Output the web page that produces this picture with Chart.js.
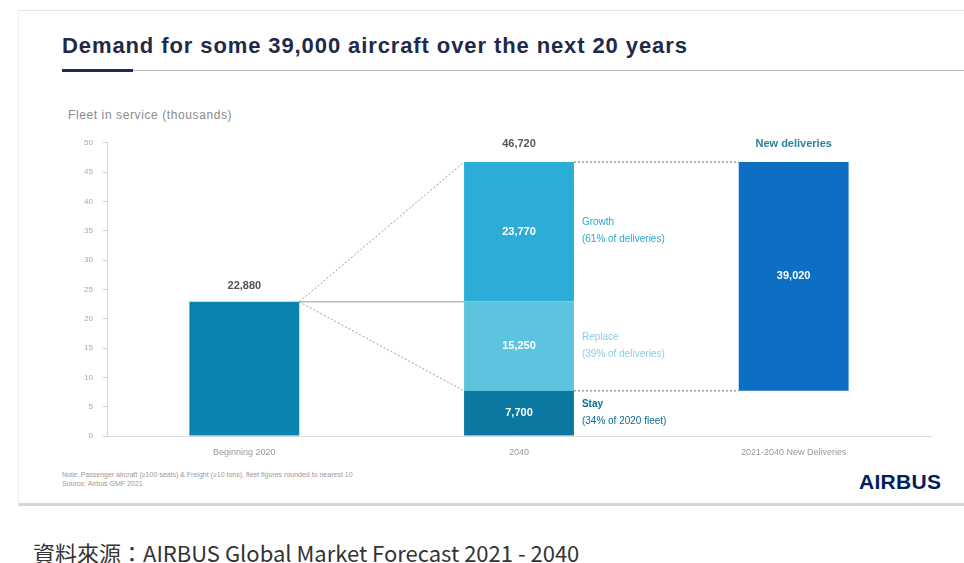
<!doctype html>
<html lang="en">
<head>
<meta charset="utf-8">
<title>Airbus GMF 2021</title>
<script src="https://cdn.jsdelivr.net/npm/chart.js@4"></script>
<style>
  body { margin:0; background:#fff; font-family:"Liberation Sans", Arial, sans-serif; }
  #slide { position:absolute; left:18px; top:10px; width:946px; height:492px; border-top:1px solid #e4e4e4; border-left:1px solid #eee; border-bottom:3px solid #d6d6d6; }
  #title { position:absolute; left:62px; top:33px; font-size:22px; letter-spacing:0.9px; font-weight:bold; color:#1f2a48; white-space:nowrap; }
  #rule { position:absolute; left:62px; top:70px; width:902px; height:1px; background:#bdbdbd; }
  #rule2 { position:absolute; left:62px; top:69px; width:71px; height:3px; background:#1f2a5a; }
  #ylab { position:absolute; left:68px; top:108px; font-size:12px; letter-spacing:0.6px; color:#8a8a8a; }
  #wrap { position:absolute; left:60px; top:128px; width:880px; height:332px; }
  #note { position:absolute; left:62px; top:470px; font-size:7px; line-height:9px; color:#999; }
  #logo { position:absolute; left:859px; top:470px; font-size:21px; font-weight:bold; color:#00205b; letter-spacing:0.3px; }
  #src { position:absolute; left:33px; top:536px; font-size:22px; color:#333; font-family:"Noto Sans CJK TC", "Liberation Sans", sans-serif; white-space:nowrap; }
</style>
</head>
<body>
<div id="slide"></div>
<div id="title">Demand for some 39,000 aircraft over the next 20 years</div>
<div id="rule"></div><div id="rule2"></div>
<div id="ylab">Fleet in service (thousands)</div>
<div id="wrap"><canvas id="myChart"></canvas></div>
<div id="note">Note: Passenger aircraft (&ge;100 seats) &amp; Freight (&ge;10 tons), fleet figures rounded to nearest 10<br>Source: Airbus GMF 2021</div>
<div id="logo">AIRBUS</div>
<div id="src">資料來源：AIRBUS Global Market Forecast 2021 - 2040</div>
<script>
// values in thousands of aircraft
var categories = ["Beginning 2020", "2040", "2021-2040 New Deliveries"]
var fleet2020 = 22.88
var stay = 7.70
var replace = 15.25
var growth = 23.77
var yTicks = [0, 5, 10, 15, 20, 25, 30, 35, 40, 45, 50]

var fleet2040 = stay + replace + growth
var deliveries = replace + growth

function fmt(v) { return Math.round(v * 1000).toLocaleString('en-US') }

var colors = { begin:'#0a83b0', stay:'#0b78a2', replace:'#5cc4df', growth:'#2badd8', newdel:'#0c6fc3' }

var sideLabels = [
  { ds:1, t1:"Stay", t2:"(34% of 2020 fleet)", color:'#0b6e96', bold:true },
  { ds:2, t1:"Replace", t2:"(39% of deliveries)", color:'#86d0e6', bold:false },
  { ds:3, t1:"Growth", t2:"(61% of deliveries)", color:'#2aa6cf', bold:false }
]

var labelPlugin = {
  id:'labels',
  beforeDatasetsDraw: function(chart) {
    var ctx = chart.ctx
    var y = chart.scales.y
    var b0 = chart.getDatasetMeta(0).data[0]
    var s = chart.getDatasetMeta(1).data[1]
    var n = chart.getDatasetMeta(4).data[2]
    var x0 = b0.x + b0.width / 2
    var y0 = y.getPixelForValue(fleet2020)
    var x1 = s.x - s.width / 2
    var x2 = s.x + s.width / 2
    var x3 = n.x - n.width / 2
    var yTop = y.getPixelForValue(fleet2040)
    var yStay = y.getPixelForValue(stay)
    ctx.save()
    ctx.strokeStyle = '#9a9a9a'
    ctx.lineWidth = 1
    ctx.beginPath(); ctx.moveTo(x0, y0); ctx.lineTo(x1, y0); ctx.stroke()
    ctx.setLineDash([2, 2])
    ctx.beginPath(); ctx.moveTo(x0, y0); ctx.lineTo(x1, yTop); ctx.stroke()
    ctx.beginPath(); ctx.moveTo(x0, y0); ctx.lineTo(x1, yStay); ctx.stroke()
    ctx.strokeStyle = '#666'
    ctx.beginPath(); ctx.moveTo(x2, yTop); ctx.lineTo(x3, yTop); ctx.stroke()
    ctx.beginPath(); ctx.moveTo(x2, yStay); ctx.lineTo(x3, yStay); ctx.stroke()
    ctx.restore()
  },
  afterDatasetsDraw: function(chart) {
    var ctx = chart.ctx
    var y = chart.scales.y
    ctx.save()
    ctx.textAlign = 'center'
    ctx.textBaseline = 'middle'
    // labels above bars
    var b0 = chart.getDatasetMeta(0).data[0]
    var g = chart.getDatasetMeta(3).data[1]
    var n = chart.getDatasetMeta(4).data[2]
    ctx.font = 'bold 11px "Liberation Sans", Arial'
    ctx.fillStyle = '#555'
    ctx.fillText(fmt(fleet2020), b0.x, y.getPixelForValue(fleet2020) - 16)
    ctx.fillText(fmt(fleet2040), g.x, y.getPixelForValue(fleet2040) - 18)
    ctx.fillStyle = '#2a7f9f'
    ctx.fillText('New deliveries', n.x, y.getPixelForValue(fleet2040) - 18)
    // labels inside bars
    ctx.fillStyle = '#fff'
    chart.data.datasets.forEach(function(ds, i) {
      chart.getDatasetMeta(i).data.forEach(function(bar, j) {
        var v = ds.data[j]
        if (v == null || i == 0) return
        var lo = Array.isArray(v) ? v[0] : 0, hi = Array.isArray(v) ? v[1] : v
        ctx.fillText(fmt(hi - lo), bar.x, y.getPixelForValue((lo + hi) / 2))
      })
    })
    // side labels
    ctx.textAlign = 'left'
    sideLabels.forEach(function(l) {
      var bar = chart.getDatasetMeta(l.ds).data[1]
      var v = chart.data.datasets[l.ds].data[1]
      var mid = y.getPixelForValue((v[0] + v[1]) / 2)
      var xs = bar.x + bar.width / 2 + 8
      ctx.fillStyle = l.color
      ctx.font = (l.bold ? 'bold ' : '') + '10px "Liberation Sans", Arial'
      ctx.fillText(l.t1, xs, mid - 9)
      ctx.font = '10px "Liberation Sans", Arial'
      ctx.fillText(l.t2, xs, mid + 8)
    })
    ctx.restore()
  }
}

var myChart = document.getElementById('myChart').getContext('2d')
var chart = new Chart(myChart, {
  type:'bar',
  data:{
    labels:categories,
    datasets:[
      { label:'Beginning 2020', data:[fleet2020, null, null], backgroundColor:colors.begin },
      { label:'Stay', data:[null, [0, stay], null], backgroundColor:colors.stay },
      { label:'Replace', data:[null, [stay, stay + replace], null], backgroundColor:colors.replace },
      { label:'Growth', data:[null, [stay + replace, fleet2040], null], backgroundColor:colors.growth },
      { label:'New deliveries', data:[null, null, [fleet2040 - deliveries, fleet2040]], backgroundColor:colors.newdel }
    ]
  },
  plugins:[labelPlugin],
  options:{
    responsive:true,
    maintainAspectRatio:false,
    animation:false,
    layout:{ padding:{ top:12, right:9, left:0, bottom:0 } },
    datasets:{ bar:{ grouped:false, categoryPercentage:1, barPercentage:0.4 } },
    plugins:{ legend:{ display:false }, tooltip:{ enabled:false } },
    scales:{
      x:{
        grid:{ display:false },
        border:{ color:'#dedede' },
        ticks:{ color:'#999', font:{ size:9 }, padding:3 },
        afterFit:function(s){ s.height = 24 }
      },
      y:{
        min:0, max:50,
        afterBuildTicks:function(s){ s.ticks = yTicks.map(function(v){ return { value:v } }) },
        grid:{ drawOnChartArea:false, drawTicks:true, tickLength:4, color:'#ccc' },
        border:{ color:'#d4d4d4' },
        ticks:{ color:'#aaa', font:{ size:8 }, padding:10 },
        afterFit:function(s){ s.width = 47 }
      }
    }
  }
})
</script>
</body>
</html>
